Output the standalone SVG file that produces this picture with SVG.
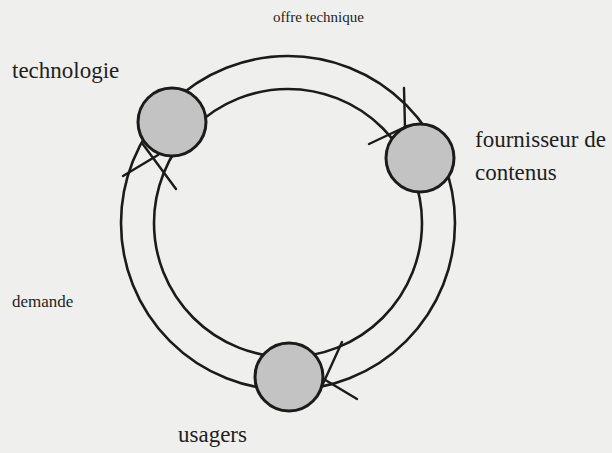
<svg xmlns="http://www.w3.org/2000/svg" width="612" height="453" viewBox="0 0 612 453">
<style>
.ring{fill:none;stroke:#1b1b1b;stroke-width:2.6}
.mark{fill:none;stroke:#1b1b1b;stroke-width:2.4;stroke-linecap:round}
.node{fill:#c3c3c3;stroke:#1b1b1b;stroke-width:3}
.lbl{font-family:"Liberation Serif","Times New Roman",serif;fill:#1e1e1e}
.big{font-size:23px}
.small{font-size:15px}
.dem{font-size:17px}
</style>
<rect width="612" height="453" fill="#efefed"/>
<g id="connectors">
<circle class="ring" cx="288" cy="223" r="167"/>
<circle class="ring" cx="288" cy="223" r="134"/>
<line class="mark" x1="123" y1="176" x2="158" y2="155"/>
<line class="mark" x1="142" y1="143" x2="176" y2="189"/>
<line class="mark" x1="404" y1="88" x2="405" y2="128"/>
<line class="mark" x1="369" y1="144" x2="405" y2="127"/>
<line class="mark" x1="342" y1="342" x2="322" y2="386"/>
<line class="mark" x1="322" y1="378" x2="357" y2="399"/>
</g>
<g id="node-technologie">
<circle class="node" cx="172" cy="122" r="34"/>
<text class="lbl big" x="12" y="78">technologie</text>
</g>
<g id="node-fournisseur">
<circle class="node" cx="420" cy="158" r="34"/>
<text class="lbl big" x="475" y="147">fournisseur de</text>
<text class="lbl big" x="475" y="180">contenus</text>
</g>
<g id="node-usagers">
<circle class="node" cx="289" cy="377" r="34"/>
<text class="lbl big" x="178" y="442">usagers</text>
</g>
<g id="labels">
<text class="lbl small" x="273" y="22">offre technique</text>
<text class="lbl dem" x="12" y="307">demande</text>
</g>
</svg>
